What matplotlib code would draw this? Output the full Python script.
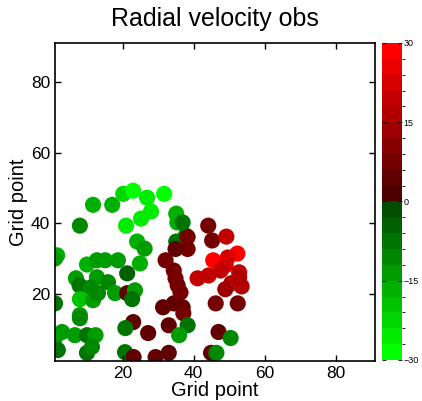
import numpy as np
import matplotlib
matplotlib.use("Agg")
import matplotlib.pyplot as plt
from matplotlib.colors import ListedColormap, BoundaryNorm

plt.rcParams['font.family'] = ['Liberation Sans', 'DejaVu Sans']

# grid-point positions of observations and radial velocity (m/s)
x_pts = [1.6, 1.0, 24.1, 26.2, 24.9, 10.0, 12.8, 15.1, 18.7, 21.3, 35.1, 37.8,
         6.9, 7.9, 12.8, 15.9, 17.9, 11.0, 8.0, 11.7, 13.1, 1.0, 8.0, 8.0,
         21.3, 23.5, 22.7, 23.0, 20.8, 3.0, 1.0, 1.8, 6.6, 10.0, 12.4, 10.0,
         11.4, 20.7, 23.1,
         27.2, 29.3, 33.0, 31.4, 34.4, 36.9, 37.1, 33.0, 38.3, 35.9,
         32.1, 34.4, 34.9, 35.5, 36.3, 38.3, 38.3, 34.9,
         44.1, 45.2, 49.2, 52.3, 49.6, 45.5, 49.0, 41.1, 44.2, 47.6, 52.8,
         52.8, 50.6, 53.5, 48.9, 46.2, 52.4, 47.0, 50.4, 44.9, 46.4,
         11.7, 17.1, 20.2, 23.0, 26.9, 31.7, 8.0, 21.0, 25.2, 28.0, 35.1,
         35.4, 36.9]
y_pts = [30.9, 30.0, 34.8, 32.8, 28.6, 28.3, 29.5, 29.5, 29.5, 25.8, 34.8, 36.5,
         24.4, 22.4, 24.7, 23.3, 20.2, 21.8, 18.5, 18.2, 20.2, 17.3, 14.0, 13.1,
         20.2, 21.0, 18.5, 12.0, 10.3, 9.2, 7.5, 4.1, 8.3, 8.3, 8.3, 3.3,
         5.0, 3.5, 2.1,
         8.9, 2.1, 3.3, 16.2, 17.3, 16.2, 14.5, 11.1, 11.1, 8.3,
         29.5, 26.6, 24.4, 22.4, 20.4, 36.1, 32.7, 32.7,
         39.3, 35.1, 36.2, 31.4, 30.3, 29.5, 28.1, 24.4, 25.2, 26.6, 26.1,
         24.7, 23.0, 22.1, 21.3, 17.3, 17.3, 9.2, 7.5, 3.3, 3.3,
         45.2, 45.2, 48.3, 49.2, 47.2, 48.3, 39.3, 39.3, 41.3, 43.3, 42.7,
         40.2, 40.2]
v_pts = [-17, -14, -18, -15, -17, -17, -15, -15, -14, -6, -7, -7,
         -14, -8, -14, -12, -15, -12, -20, -13, -12, -8, -13, -11,
         5, -13, -7, 5, -8, -15, -14, -8, -14, -8, -13, -8,
         -10, -8, 5,
         5, 5, 5, 5, 5, 5, 6, 5, -8, -14,
         6, 6, 6, 6, 8, 7, 7, 5,
         6, 7, 20, 29, 22, 29, 23, 18, 18, 20, 18,
         17, 16, 15, 12, 6, 6, 5, -12, 5, -12,
         -17, -17, -22, -28, -25, -28, -12, -27, -25, -26, -17,
         -17, -8]

cbar_ticks = [-30, -15, 0, 15, 30]
cbar_labels = ['\u221230', '\u221215', '0', '15', '30']

# discrete green-to-red colormap (20 levels)
greens = [(0, g, 0) for g in np.linspace(1.0, 0.3, 10)]
reds = [(r, 0, 0) for r in np.linspace(0.3, 1.0, 10)]
cmap = ListedColormap(greens + reds)
norm = BoundaryNorm(np.linspace(-30, 30, 21), cmap.N)

fig = plt.figure(figsize=(4.22, 4.01), dpi=100)
ax = fig.add_axes([0.1303, 0.0998, 0.7583, 0.793])
sc = ax.scatter(x_pts, y_pts, c=v_pts, cmap=cmap, norm=norm, s=135,
                edgecolors='none')
ax.set_xlim(1, 91)
ax.set_ylim(1, 91)
ax.set_xticks([20, 40, 60, 80])
ax.set_yticks([20, 40, 60, 80])
ax.tick_params(direction='in', top=True, right=True, labelsize=12.5,
               length=4, width=1)
for sp in ax.spines.values():
    sp.set_linewidth(1.2)
ax.set_xlabel('Grid point', fontsize=14.5, labelpad=0)
ax.set_ylabel('Grid point', fontsize=14.5, labelpad=2)
ax.set_title('Radial velocity obs', fontsize=18, pad=12)

cax = fig.add_axes([0.905, 0.1023, 0.0474, 0.7905])
cb = fig.colorbar(sc, cax=cax, ticks=cbar_ticks)
cb.outline.set_visible(False)
cax.tick_params(direction='in', labelsize=6.5, length=3, width=0.6,
                left=True, right=True, pad=1)
cax.set_yticklabels(cbar_labels)

fig.savefig('out.png', dpi=100)
